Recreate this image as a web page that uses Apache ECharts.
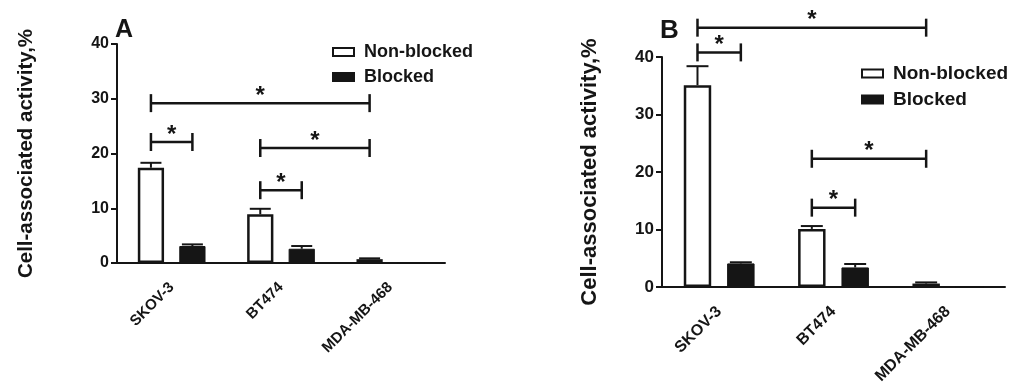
<!DOCTYPE html>
<html>
<head>
<meta charset="utf-8">
<script src="https://cdn.jsdelivr.net/npm/echarts@6/dist/echarts.min.js"></script>
<style>
  html, body { margin: 0; padding: 0; background: #fff; }
  #chart { width: 1029px; height: 383px; }
</style>
</head>
<body>
<div id="chart"></div>
<script>
// cell lines
var categories = ['SKOV-3', 'BT474', 'MDA-MB-468'];
var seriesNames = ['Non-blocked', 'Blocked'];

// panel A values (%), one-sided SD
var nonBlockedA = [17.4, 8.9, 0.7];
var nonBlockedErrA = [0.9, 1.0, 0.15];
var blockedA = [3.1, 2.6, 0];
var blockedErrA = [0.3, 0.5, 0];

// panel B values (%)
var nonBlockedB = [35.1, 10.1, 0.6];
var nonBlockedErrB = [3.3, 0.5, 0.2];
var blockedB = [4.1, 3.4, 0];
var blockedErrB = [0.2, 0.6, 0];

// significance brackets: [fromCat, fromSeries, toCat, toSeries, height]
var bracketsA = [[0, 0, 0, 1, 22.1], [0, 0, 2, 0, 29.2], [1, 0, 1, 1, 13.3], [1, 0, 2, 0, 21.0]];
var bracketsB = [[0, 0, 0, 1, 40.8], [0, 0, 2, 0, 45.1], [1, 0, 1, 1, 13.8], [1, 0, 2, 0, 22.3]];

var yTicks = {min: 0, max: 40, interval: 10};

var FONT = '"Liberation Sans", Arial, sans-serif';
var INK = '#151515';
var BAR_W = 0.24, BAR_GAP = 0.58;
var OFF = BAR_W * (1 + BAR_GAP) / 2; // bar centre offset, fraction of band

var chart = echarts.init(document.getElementById('chart'));

function errData(vals, errs, s) {
	return vals.map(function(v, i) { return [i, s, v, errs[i]]; });
}

function renderErr(params, api) {
	var band = api.size([1, 0])[0];
	var off = (api.value(1) === 0 ? -1 : 1) * band * OFF;
	var err = api.value(3);
	if (!err) return null;
	var base = api.coord([api.value(0), api.value(2)]);
	var top = api.coord([api.value(0), api.value(2) + err]);
	var x = base[0] + off;
	var hw = band * BAR_W * 0.4;
	var st = {stroke: INK, lineWidth: 2, fill: null};
	return {
		type: 'group',
		children: [
			{type: 'line', shape: {x1: x, y1: base[1], x2: x, y2: top[1]}, style: st},
			{type: 'line', shape: {x1: x - hw, y1: top[1], x2: x + hw, y2: top[1]}, style: st}
		]
	};
}

function renderBracket(params, api) {
	var band = api.size([1, 0])[0];
	var o1 = (api.value(1) === 0 ? -1 : 1) * band * OFF;
	var o2 = (api.value(3) === 0 ? -1 : 1) * band * OFF;
	var p1 = api.coord([api.value(0), api.value(4)]);
	var p2 = api.coord([api.value(2), api.value(4)]);
	var x1 = p1[0] + o1, x2 = p2[0] + o2, y = p1[1];
	var st = {stroke: INK, lineWidth: 2.5, fill: null};
	return {
		type: 'group',
		children: [
			{type: 'line', shape: {x1: x1, y1: y, x2: x2, y2: y}, style: st},
			{type: 'line', shape: {x1: x1, y1: y - 9, x2: x1, y2: y + 9}, style: st},
			{type: 'line', shape: {x1: x2, y1: y - 9, x2: x2, y2: y + 9}, style: st},
			{type: 'text', x: (x1 + x2) / 2, y: y - 7, style: {text: '*', fill: INK, font: 'bold 24px ' + FONT, align: 'center', verticalAlign: 'middle'}}
		]
	};
}

function xAxis(idx, size, margin) {
	return {
		type: 'category', gridIndex: idx, data: categories,
		axisLine: {lineStyle: {color: INK, width: 2}},
		axisTick: {alignWithLabel: true, length: 6, lineStyle: {color: INK, width: 2}},
		axisLabel: {rotate: 45, margin: margin, color: INK, fontFamily: FONT, fontWeight: 'bold', fontSize: size}
	};
}

function yAxis(idx, size, gap, nameSize) {
	return {
		type: 'value', gridIndex: idx, min: yTicks.min, max: yTicks.max, interval: yTicks.interval,
		name: 'Cell-associated activity,%', nameLocation: 'middle', nameGap: gap,
		nameTextStyle: {color: INK, fontFamily: FONT, fontWeight: 'bold', fontSize: nameSize},
		axisLine: {show: true, lineStyle: {color: INK, width: 2}},
		axisTick: {show: true, length: 6, lineStyle: {color: INK, width: 2}},
		axisLabel: {margin: 8, color: INK, fontFamily: FONT, fontWeight: 'bold', fontSize: size},
		splitLine: {show: false}
	};
}

function barSeries(idx, name, vals, white) {
	return {
		type: 'bar', name: name, xAxisIndex: idx, yAxisIndex: idx, data: vals,
		barWidth: (BAR_W * 100) + '%', barGap: (BAR_GAP * 100) + '%',
		itemStyle: white ? {color: '#fff', borderColor: INK, borderWidth: 2.5} : {color: INK, borderColor: INK, borderWidth: 1},
		emphasis: {disabled: true}
	};
}

function legend(left, top, size, pad) {
	return {
		left: left, top: top, orient: 'vertical', itemWidth: 21, itemHeight: 8, itemGap: 7,
		icon: 'rect', selectedMode: false, data: seriesNames,
		textStyle: {color: INK, fontFamily: FONT, fontWeight: 'bold', fontSize: size, padding: [0, 0, 0, pad]}
	};
}

var option = {
	animation: false,
	title: [
		{text: 'A', left: 110, top: 13, textStyle: {color: INK, fontFamily: FONT, fontWeight: 'bold', fontSize: 25}},
		{text: 'B', left: 655, top: 13, textStyle: {color: INK, fontFamily: FONT, fontWeight: 'bold', fontSize: 26}}
	],
	legend: [legend(327, 38, 18, 5), legend(856, 59, 19, 5)],
	grid: [
		{left: 117, top: 44, width: 328, height: 219, outerBoundsMode: 'none'},
		{left: 662, top: 57, width: 343, height: 230, outerBoundsMode: 'none'}
	],
	xAxis: [xAxis(0, 15, 22), xAxis(1, 16, 22)],
	yAxis: [yAxis(0, 16, 80, 20.5), yAxis(1, 17, 61, 22)],
	series: [
		barSeries(0, 'Non-blocked', nonBlockedA, true),
		barSeries(0, 'Blocked', blockedA, false),
		{type: 'custom', xAxisIndex: 0, yAxisIndex: 0, renderItem: renderErr, encode: {x: 0, y: 2}, z: 3,
			data: errData(nonBlockedA, nonBlockedErrA, 0).concat(errData(blockedA, blockedErrA, 1))},
		{type: 'custom', xAxisIndex: 0, yAxisIndex: 0, renderItem: renderBracket, encode: {x: 0, y: 4}, clip: false, z: 4,
			data: bracketsA},
		barSeries(1, 'Non-blocked', nonBlockedB, true),
		barSeries(1, 'Blocked', blockedB, false),
		{type: 'custom', xAxisIndex: 1, yAxisIndex: 1, renderItem: renderErr, encode: {x: 0, y: 2}, z: 3,
			data: errData(nonBlockedB, nonBlockedErrB, 0).concat(errData(blockedB, blockedErrB, 1))},
		{type: 'custom', xAxisIndex: 1, yAxisIndex: 1, renderItem: renderBracket, encode: {x: 0, y: 4}, clip: false, z: 4,
			data: bracketsB}
	]
};

chart.setOption(option);
</script>
</body>
</html>
